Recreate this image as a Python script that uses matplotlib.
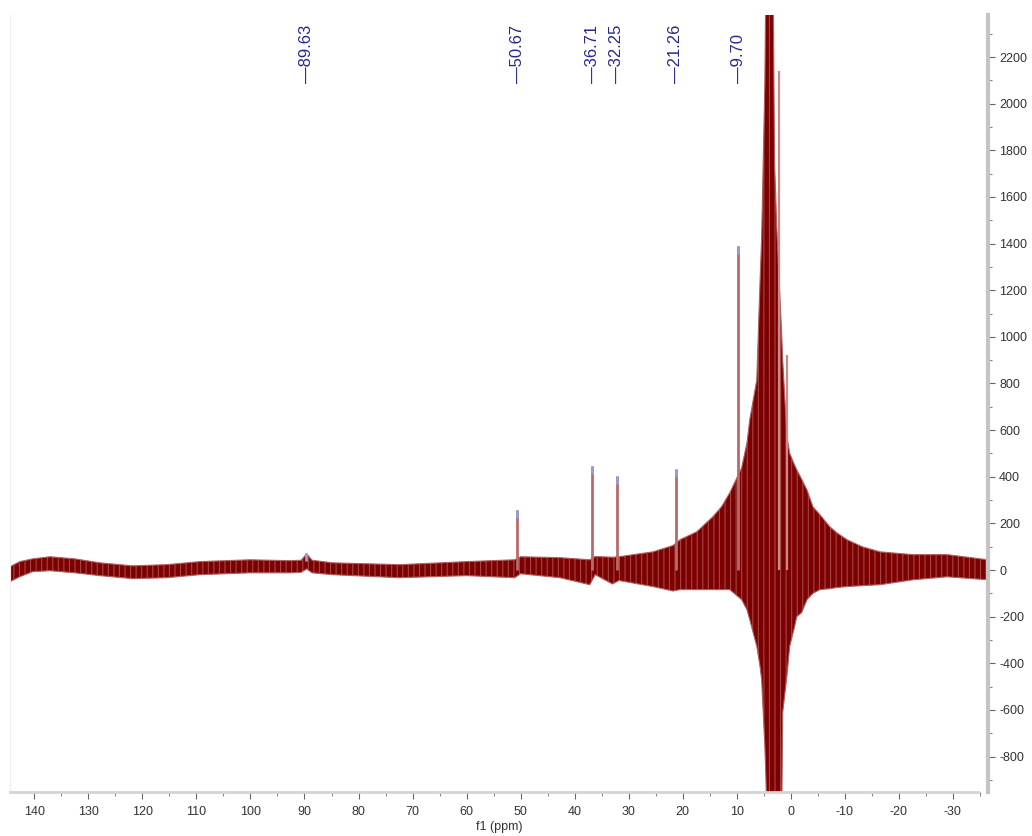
import matplotlib.pyplot as plt
from matplotlib.ticker import MultipleLocator
import matplotlib.transforms as mtransforms

plt.rcParams['font.family'] = ['Liberation Sans', 'DejaVu Sans']
plt.rcParams['axes.unicode_minus'] = False
plt.rcParams['hatch.linewidth'] = 0.8

# envelope of the spectrum trace
env_ppm = [144.5, 142.7, 140.3, 137.1, 132.5, 127.9, 121.8, 115.5, 109.4, 100.1,
           92.7, 90.6, 89.6, 88.6, 84.8, 72.4, 60.0, 51.1, 50.0, 42.7,
           37.2, 36.2, 33.0, 31.8, 25.5, 21.8, 20.5, 17.4, 14.4, 12.8,
           11.3, 9.1, 8.1, 7.6, 6.3, 5.7, 5.4, 4.8, 4.6, 4.4,
           3.3, 3.0, 2.6, 1.7, 1.5, 0.7, 0.2, -0.7, -1.1, -2.0,
           -3.0, -4.1, -5.4, -7.2, -8.5, -10.4, -13.2, -16.5, -22.6, -28.9,
           -36.5]
env_hi = [14, 36, 48, 57, 48, 31, 18, 23, 36, 44,
          40, 42, 70, 42, 31, 23, 36, 44, 57, 53,
          44, 58, 55, 57, 78, 105, 130, 164, 229, 272,
          331, 438, 547, 644, 815, 1232, 1425, 2089, 2600, 2600,
          2600, 1745, 1471, 1017, 900, 570, 500, 450, 430, 390,
          343, 271, 237, 186, 160, 130, 100, 78, 66, 66,
          44]
env_lo = [-50, -29, -7, -3, -12, -24, -37, -33, -20, -12,
          -12, -10, 5, -12, -20, -33, -24, -33, -16, -33,
          -63, -20, -60, -45, -71, -90, -84, -84, -84, -84,
          -84, -127, -171, -213, -327, -413, -470, -757, -900, -1100,
          -1100, -1100, -1100, -1100, -611, -450, -327, -243, -200, -183,
          -127, -100, -84, -80, -75, -71, -67, -63, -42, -29,
          -42]

# picked peaks (labels) and their heights
peak_ppm = [89.63, 50.67, 36.71, 32.25, 21.26, 9.70]
peak_top = [74, 257, 447, 404, 434, 1390]

# unlabelled sharp lines next to the big signal
extra_ppm = [2.2, 0.75]
extra_top = [2140, 922]

fig = plt.figure(figsize=(10.32, 8.36), dpi=100)
ax = fig.add_axes([0.0097, 0.0526, 0.9477, 0.9294])

ax.fill_between(env_ppm, env_lo, env_hi, facecolor='#7d0000', edgecolor=(1, 1, 1, 0.28),
                hatch='|||', linewidth=0)
ax.fill_between(env_ppm, env_lo, env_hi, facecolor='none', edgecolor='#b06060', linewidth=0.8)

ax.vlines(peak_ppm[1:], 0, peak_top[1:], color='#b86a6a', lw=2)
ax.vlines(extra_ppm, 0, extra_top, color='#c98a8a', lw=1.6)
ax.vlines(peak_ppm, [t - 35 for t in peak_top], peak_top, color='#9a9ad6', lw=2)

trans = mtransforms.blended_transform_factory(ax.transData, ax.transAxes)
for p in peak_ppm:
    ax.text(p, 0.9125, '\u2014' + f'{p:.2f}', rotation=90, ha='center', va='bottom',
            transform=trans, fontsize=12, color='#28288c')

ax.set_xlim(144.5, -36.5)
ax.set_ylim(-952, 2380)

ax.xaxis.set_major_locator(MultipleLocator(10))
ax.xaxis.set_minor_locator(MultipleLocator(5))
ax.yaxis.set_major_locator(MultipleLocator(200))
ax.yaxis.set_minor_locator(MultipleLocator(100))
ax.yaxis.tick_right()
ax.tick_params(axis='both', which='major', direction='out', length=5, width=0.8,
               color='#666666', labelsize=9, labelcolor='#333333', pad=3)
ax.tick_params(axis='x', which='major', pad=5)
ax.tick_params(axis='both', which='minor', direction='out', length=3, width=0.8, color='#888888')

ax.spines['top'].set_visible(False)
ax.spines['left'].set_color('#eeeeee')
ax.spines['right'].set_color('#c4c4c4')
ax.spines['right'].set_linewidth(3)
ax.spines['bottom'].set_color('#d4d4d4')
ax.spines['bottom'].set_linewidth(2)
ax.spines['bottom'].set_bounds(144.5, -34.6)

ax.set_xlabel('f1 (ppm)', fontsize=9, color='#333333', labelpad=2)

fig.savefig('out.png', dpi=100)
